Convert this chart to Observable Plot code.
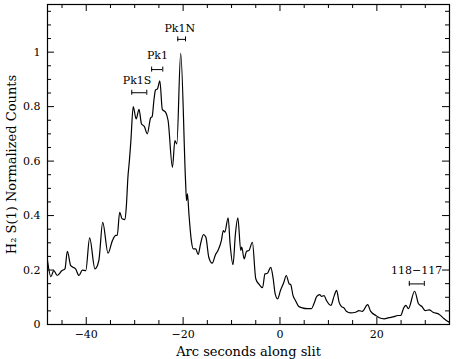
<!DOCTYPE html>
<html><head><meta charset="utf-8">
<script src="https://cdn.jsdelivr.net/npm/d3@7"></script>
<script src="https://cdn.jsdelivr.net/npm/@observablehq/plot@0.6"></script>
<style>body{margin:0;background:#fff}</style>
</head><body><div id="chart"></div>
<script>
const arcsec = [-48,-47.3,-46.7,-46.0,-45.0,-44.4,-43.9,-43.2,-42.2,-41.5,-40.8,-40.1,-39.3,-38.2,-37.4,-36.6,-35.5,-34.6,-33.9,-33.6,-33.1,-32.6,-32.0,-31.7,-31.4,-31.1,-30.8,-30.3,-29.7,-29.1,-28.6,-28.0,-27.4,-26.7,-26.4,-26.0,-25.7,-25.3,-24.8,-24.3,-23.6,-23.1,-22.2,-21.7,-21.3,-20.5,-19.5,-19.3,-19.1,-18.8,-18.3,-17.9,-17.4,-16.9,-16.4,-15.8,-15.3,-14.7,-14.0,-13.3,-12.8,-12.1,-11.7,-11.4,-10.7,-10.3,-9.7,-9.2,-8.7,-8.1,-7.9,-7.4,-6.9,-6.4,-5.7,-5.0,-4.3,-3.6,-3.1,-2.6,-1.9,-1.4,-1.0,-0.5,0.1,0.8,1.3,1.9,2.2,2.7,3.2,3.9,4.6,5.7,6.5,7.0,7.6,8.2,8.6,9.1,9.6,10.5,11.2,11.7,12.2,12.7,13.2,13.7,14.6,15.6,16.3,17.0,18.1,18.7,19.8,20.5,21.5,22.5,23.6,24.3,24.9,25.6,26.0,26.5,27.8,28.6,29.3,30.0,30.8,31.6,32.9,33.9,34.6,35.0];
const counts = [0.235,0.176,0.198,0.18,0.198,0.204,0.269,0.216,0.204,0.18,0.2,0.198,0.318,0.204,0.235,0.375,0.262,0.308,0.327,0.327,0.412,0.388,0.385,0.44,0.54,0.60,0.67,0.80,0.755,0.79,0.737,0.727,0.70,0.759,0.763,0.828,0.861,0.865,0.895,0.79,0.779,0.749,0.577,0.675,0.663,0.996,0.528,0.455,0.48,0.406,0.308,0.278,0.278,0.257,0.296,0.33,0.32,0.247,0.225,0.257,0.272,0.308,0.345,0.339,0.392,0.296,0.22,0.333,0.392,0.272,0.284,0.241,0.269,0.272,0.302,0.168,0.147,0.135,0.186,0.188,0.21,0.168,0.113,0.094,0.125,0.155,0.18,0.149,0.147,0.106,0.088,0.066,0.061,0.058,0.058,0.076,0.103,0.11,0.103,0.106,0.088,0.07,0.106,0.125,0.082,0.066,0.061,0.049,0.043,0.045,0.051,0.048,0.073,0.049,0.033,0.025,0.021,0.025,0.029,0.033,0.033,0.063,0.07,0.058,0.122,0.076,0.066,0.051,0.054,0.045,0.037,0.021,0.012,0.008];

const xMajor = [-40, -20, 0, 20];
const xMinor = [-45, -35, -30, -25, -15, -10, -5, 5, 10, 15, 25, 30];
const yMajor = [0, 0.2, 0.4, 0.6, 0.8, 1];
const yMinor = [0.05, 0.1, 0.15, 0.25, 0.3, 0.35, 0.45, 0.5, 0.55, 0.65, 0.7, 0.75, 0.85, 0.9, 0.95, 1.05, 1.1, 1.15];

const regionNames = ["Pk1S", "Pk1", "Pk1N", "118−117"];
const regionTextX = [-29.5, -25.3, -20.7, 28.2];
const regionTextY = [0.895, 0.987, 1.086, 0.198];
const regionFrom = [-30.6, -26.5, -21.1, 26.7];
const regionTo = [-27.5, -24.2, -19.5, 29.8];
const regionBarY = [0.851, 0.936, 1.047, 0.149];

const profile = arcsec.map((x, i) => ({x, y: counts[i]}));
const regions = regionNames.map((name, i) => ({name, tx: regionTextX[i], ty: regionTextY[i], x1: regionFrom[i], x2: regionTo[i], y: regionBarY[i]}));
const caps = regions.flatMap(r => [{x: r.x1, y: r.y}, {x: r.x2, y: r.y}]);

const W = 457, H = 359, mL = 47, mR = 8, mT = 4, mB = 35;
const pw = W - mL - mR, ph = H - mT - mB;
const font = "DejaVu Serif";

const chart = Plot.plot({
  width: W, height: H,
  marginLeft: mL, marginRight: mR, marginTop: mT, marginBottom: mB,
  style: {fontFamily: font, fontSize: "11px", background: "#fff", color: "#000"},
  x: {domain: [-48, 35]},
  y: {domain: [0, 1.175]},
  marks: [
    Plot.axisX({ticks: xMajor, tickSize: 0, tickPadding: 6, label: null, fontSize: 11}),
    Plot.axisX({ticks: [], tickSize: 0, label: "Arc seconds along slit", labelAnchor: "center", labelArrow: "none", labelOffset: 31, fontSize: 13}),
    Plot.axisY({ticks: yMajor, tickSize: 0, tickPadding: 7, tickFormat: d3.format("~g"), label: null, fontSize: 11}),
    Plot.axisY({ticks: [], tickSize: 0, label: "H₂ S(1) Normalized Counts", labelAnchor: "center", labelArrow: "none", labelOffset: 41, fontSize: 13}),
    Plot.tickX(xMajor, {x: d => d, insetTop: ph - 7, stroke: "#000"}),
    Plot.tickX(xMajor, {x: d => d, insetBottom: ph - 7, stroke: "#000"}),
    Plot.tickX(xMinor, {x: d => d, insetTop: ph - 4, stroke: "#000"}),
    Plot.tickX(xMinor, {x: d => d, insetBottom: ph - 4, stroke: "#000"}),
    Plot.tickY(yMajor, {y: d => d, insetRight: pw - 7, stroke: "#000"}),
    Plot.tickY(yMajor, {y: d => d, insetLeft: pw - 7, stroke: "#000"}),
    Plot.tickY(yMinor, {y: d => d, insetRight: pw - 4, stroke: "#000"}),
    Plot.tickY(yMinor, {y: d => d, insetLeft: pw - 4, stroke: "#000"}),
    Plot.line(profile, {x: "x", y: "y", stroke: "#000", strokeWidth: 1.2, curve: "monotone-x", clip: true}),
    Plot.ruleY(regions, {y: "y", x1: "x1", x2: "x2", stroke: "#000", strokeWidth: 1}),
    Plot.ruleX(caps, {x: "x", y1: "y", y2: "y", insetTop: -2.5, insetBottom: -2.5, stroke: "#000", strokeWidth: 1}),
    Plot.text(regions, {x: "tx", y: "ty", text: "name", fontSize: 11, fill: "#000"}),
    Plot.frame({stroke: "#000", strokeWidth: 1.2})
  ]
});
document.getElementById("chart").appendChild(chart);
</script>
</body></html>
